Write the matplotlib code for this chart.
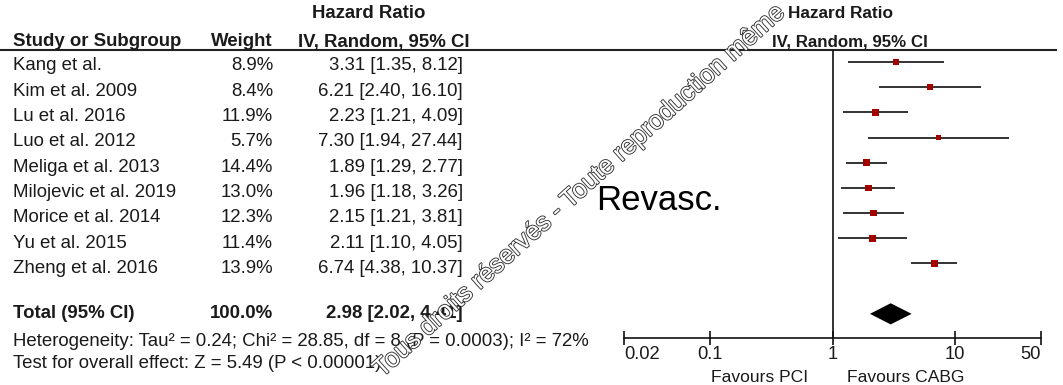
import matplotlib
matplotlib.use("Agg")
import matplotlib.pyplot as plt
import matplotlib.patheffects as pe
from matplotlib.ticker import NullLocator
import numpy as np

# ---------------- data ----------------
studies = ["Kang et al.", "Kim et al. 2009", "Lu et al. 2016", "Luo et al. 2012",
           "Meliga et al. 2013", "Milojevic et al. 2019", "Morice et al. 2014",
           "Yu et al. 2015", "Zheng et al. 2016"]
weights = [8.9, 8.4, 11.9, 5.7, 14.4, 13.0, 12.3, 11.4, 13.9]
hr = [3.31, 6.21, 2.23, 7.30, 1.89, 1.96, 2.15, 2.11, 6.74]
ci_low = [1.35, 2.40, 1.21, 1.94, 1.29, 1.18, 1.21, 1.10, 4.38]
ci_high = [8.12, 16.10, 4.09, 27.44, 2.77, 3.26, 3.81, 4.05, 10.37]

total_label = "Total (95% CI)"
total_weight = 100.0
total_hr = 2.98
total_low = 2.02
total_high = 4.41

xticks = [0.02, 0.1, 1, 10, 50]
xtick_labels = ["0.02", "0.1", "1", "10", "50"]

heterogeneity = "Heterogeneity: Tau² = 0.24; Chi² = 28.85, df = 8 (P = 0.0003); I² = 72%"
overall = "Test for overall effect: Z = 5.49 (P < 0.00001)"
favours_left = "Favours PCI"
favours_right = "Favours CABG"
panel_label = "Revasc."
watermark = "Tous droits réservés - Toute reproduction même"

# ---------------- figure ----------------
plt.rcParams['font.family'] = ['Liberation Sans', 'DejaVu Sans']
W, H = 1063, 385
fig = plt.figure(figsize=(W / 100, H / 100), dpi=100)
fig.patch.set_facecolor("white")

tax = fig.add_axes([0, 0, 1, 1])
tax.set_xlim(0, W)
tax.set_ylim(H, 0)
tax.axis("off")

TC = "#1a1a1a"
FS = 13.4

# headers
tax.text(369, 14, "Hazard Ratio", ha="center", va="center", fontsize=FS, fontweight="bold", color=TC)
tax.text(13, 42, "Study or Subgroup", ha="left", va="center", fontsize=FS, fontweight="bold", color=TC)
tax.text(273, 42, "Weight", ha="right", va="center", fontsize=FS, fontweight="bold", color=TC)
tax.text(298, 42, "IV, Random, 95% CI", ha="left", va="center", fontsize=FS, fontweight="bold", color=TC)
tax.text(840, 14, "Hazard Ratio", ha="center", va="center", fontsize=12.4, fontweight="bold", color=TC)
tax.text(850, 42, "IV, Random, 95% CI", ha="center", va="center", fontsize=12.2, fontweight="bold", color=TC)

tax.plot([0, 1057], [50, 50], color="#222222", lw=1.5, solid_capstyle="butt")

# study rows
for i, name in enumerate(studies):
    y = 66 + 25.3 * i
    tax.text(13, y, name, ha="left", va="center", fontsize=FS, color=TC)
    tax.text(273, y, f"{weights[i]:.1f}%", ha="right", va="center", fontsize=FS, color=TC)
    tax.text(463, y, f"{hr[i]:.2f} [{ci_low[i]:.2f}, {ci_high[i]:.2f}]",
             ha="right", va="center", fontsize=FS, color=TC)

# total row
tax.text(13, 313, total_label, ha="left", va="center", fontsize=FS, fontweight="bold", color=TC)
tax.text(273, 313, f"{total_weight:.1f}%", ha="right", va="center", fontsize=FS, fontweight="bold", color=TC)
tax.text(463, 313, f"{total_hr:.2f} [{total_low:.2f}, {total_high:.2f}]",
         ha="right", va="center", fontsize=FS, fontweight="bold", color=TC)
tax.text(13, 342, heterogeneity, ha="left", va="center", fontsize=FS, color=TC)
tax.text(13, 364, overall, ha="left", va="center", fontsize=FS, color=TC)

# favours labels
tax.text(808, 377, favours_left, ha="right", va="center", fontsize=12.6, color=TC)
tax.text(847, 377, favours_right, ha="left", va="center", fontsize=12.6, color=TC)

# panel label
tax.text(596, 201, panel_label, ha="left", va="center", fontsize=25, color="black")

# ---------------- forest axes ----------------
x0, x1 = 624, 1041
ytop, ybot = 50, 338
fax = fig.add_axes([x0 / W, (H - ybot) / H, (x1 - x0) / W, (ybot - ytop) / H])
fax.patch.set_alpha(0)
fax.set_xscale("log")
fax.set_xlim(xticks[0], xticks[-1])
fax.set_ylim(10.96, -0.48)
for s in ["top", "left", "right"]:
    fax.spines[s].set_visible(False)
fax.spines["bottom"].set_linewidth(1.2)
fax.spines["bottom"].set_color("#111111")
fax.set_yticks([])
fax.set_xticks(xticks)
fax.set_xticklabels(xtick_labels)
fax.xaxis.set_minor_locator(NullLocator())
fax.tick_params(axis="x", direction="inout", length=10, width=1.2, pad=1,
                labelsize=13.2, colors="#111111", labelcolor=TC)
tls = fax.get_xticklabels()
tls[0].set_horizontalalignment("left")
tls[-1].set_horizontalalignment("right")

rows = np.arange(len(studies))
fax.axvline(1, color="#111111", lw=1.2, zorder=1)
fax.hlines(rows, ci_low, ci_high, color="#111111", lw=1.2, zorder=2)
fax.scatter(hr, rows, s=np.array(weights) * 1.9, marker="s", color="#a30000",
            linewidths=0, zorder=3)

ty = 10
dh = 0.42
fax.fill([total_low, total_hr, total_high, total_hr], [ty, ty - dh, ty, ty + dh],
         color="black", lw=0, zorder=3)

# watermark (hollow letters)
tax.text(382, 378, watermark, ha="left", va="baseline", rotation=42, rotation_mode="anchor",
         fontsize=18.5, color="white", zorder=10,
         path_effects=[pe.withStroke(linewidth=1.3, foreground="#333333")])

fig.savefig("out.png", dpi=100, facecolor="white")
